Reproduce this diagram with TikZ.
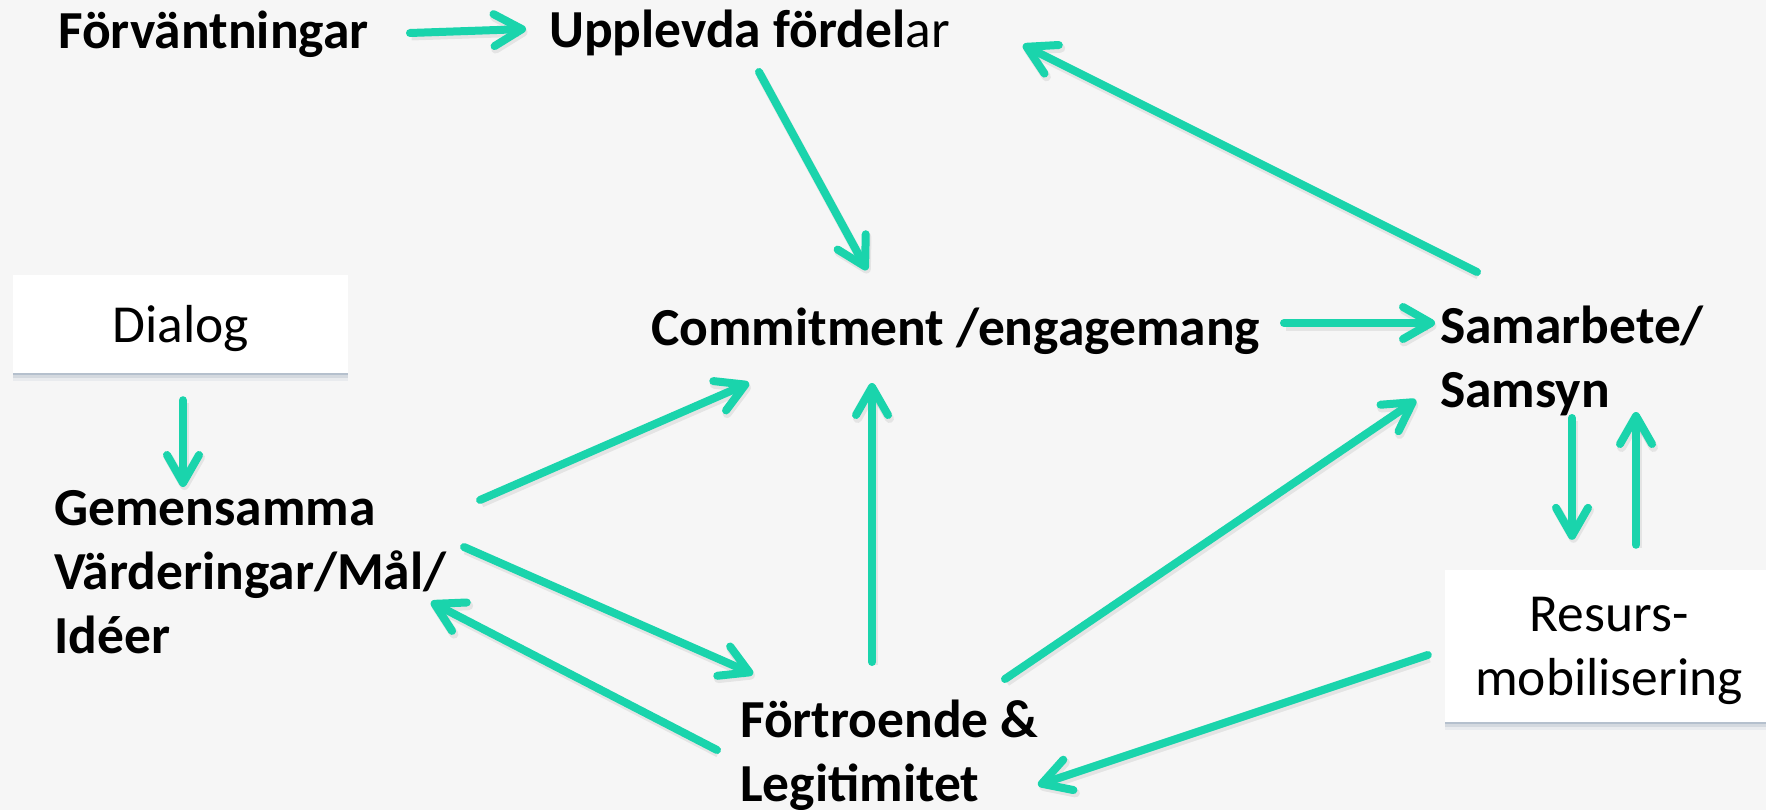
\documentclass[tikz,border=0pt]{standalone}
\usepackage{fontspec}
\setmainfont{Carlito}
\usetikzlibrary{arrows.meta,calc,shadows}
\definecolor{teal1}{HTML}{1AD4AC}
\definecolor{bg}{HTML}{F6F6F6}
\definecolor{shad}{HTML}{7F93AA}
\tikzset{
  lbl/.style={anchor=base west, inner sep=0pt, font=\fontsize{53.5}{64}\selectfont\bfseries, align=left},
  boxnode/.style={fill=white, inner sep=0pt, text depth=0pt, font=\fontsize{53.5}{64}\selectfont, align=center,
    drop shadow={shadow xshift=0pt,shadow yshift=-2pt,fill=shad,opacity=.35},
    drop shadow={shadow xshift=0pt,shadow yshift=-5pt,fill=shad,opacity=.2},
    drop shadow={shadow xshift=0pt,shadow yshift=-8pt,fill=shad,opacity=.1}},
  arr/.style={draw=teal1, line width=8pt, line cap=round,
    -{Straight Barb[length=28pt,width=32pt,line cap=round,line join=round]},
    preaction={draw=black, opacity=0.07, line width=9pt, transform canvas={shift={(1.5pt,-3pt)}}}},
}
\begin{document}
\begin{tikzpicture}[x=1pt,y=-1pt]
  \fill[bg] (0,0) rectangle (1766,810);
  \useasboundingbox (0,0) rectangle (1766,810);

  % text nodes (base = baseline of the last line)
  \node[lbl] (forv) at (58,49) {Förväntningar};
  \node[lbl] (uppl) at (549,48) {Upplevda fördel{\mdseries ar}};
  \node[lbl] (commit) at (651,345) {Commitment /engagemang};
  \node[lbl] (samarb) at (1440,407) {Samarbete/\\Samsyn};
  \node[lbl] (gem) at (54,653) {Gemensamma\\Värderingar/Mål/\\Idéer};
  \node[lbl] (fort) at (740,801) {Förtroende \&\\Legitimitet};

  % boxes
  \node[boxnode, minimum width=335pt, minimum height=98pt] (dialog) at (180.5,324) {Dialog};
  \node[boxnode, minimum width=328pt, minimum height=152pt] (resurs) at (1609,646) {Resurs-\\mobilisering};

  % connectors
  \draw[arr] ($(forv.base west)+(352,-16)$) -- ($(uppl.base west)+(-23,-19)$);
  \draw[arr] ($(uppl.base west)+(210,24)$) -- ($(commit.base west)+(216,-75)$);
  \draw[arr] ($(samarb.base west)+(37,-135)$) -- ($(uppl.base west)+(474,-3)$);
  \draw[arr] ($(commit.base west)+(633,-22)$) -- ($(samarb.base west)+(-5,-84)$);
  \draw[arr] ($(dialog.south)+(2.5,27)$) -- ($(gem.base west)+(129,-166)$);
  \draw[arr] ($(gem.base west)+(426,-153)$) -- ($(commit.base west)+(98,38)$);
  \draw[arr] ($(gem.base west)+(410,-106)$) -- ($(fort.base west)+(13,-127)$);
  \draw[arr] ($(fort.base west)+(-23,-51)$) -- ($(gem.base west)+(377,-51)$);
  \draw[arr] ($(fort.base west)+(132,-139)$) -- ($(commit.base west)+(221,38)$);
  \draw[arr] ($(fort.base west)+(265,-122)$) -- ($(samarb.base west)+(-24,-7)$);
  \draw[arr] ($(samarb.base west)+(132,11)$) -- ($(resurs.north)+(-37,-30)$);
  \draw[arr] ($(resurs.north)+(27,-25)$) -- ($(samarb.base west)+(196,5)$);
  \draw[arr] ($(resurs.west)+(-17,9)$) -- ($(fort.base west)+(298,-16)$);
\end{tikzpicture}
\end{document}
